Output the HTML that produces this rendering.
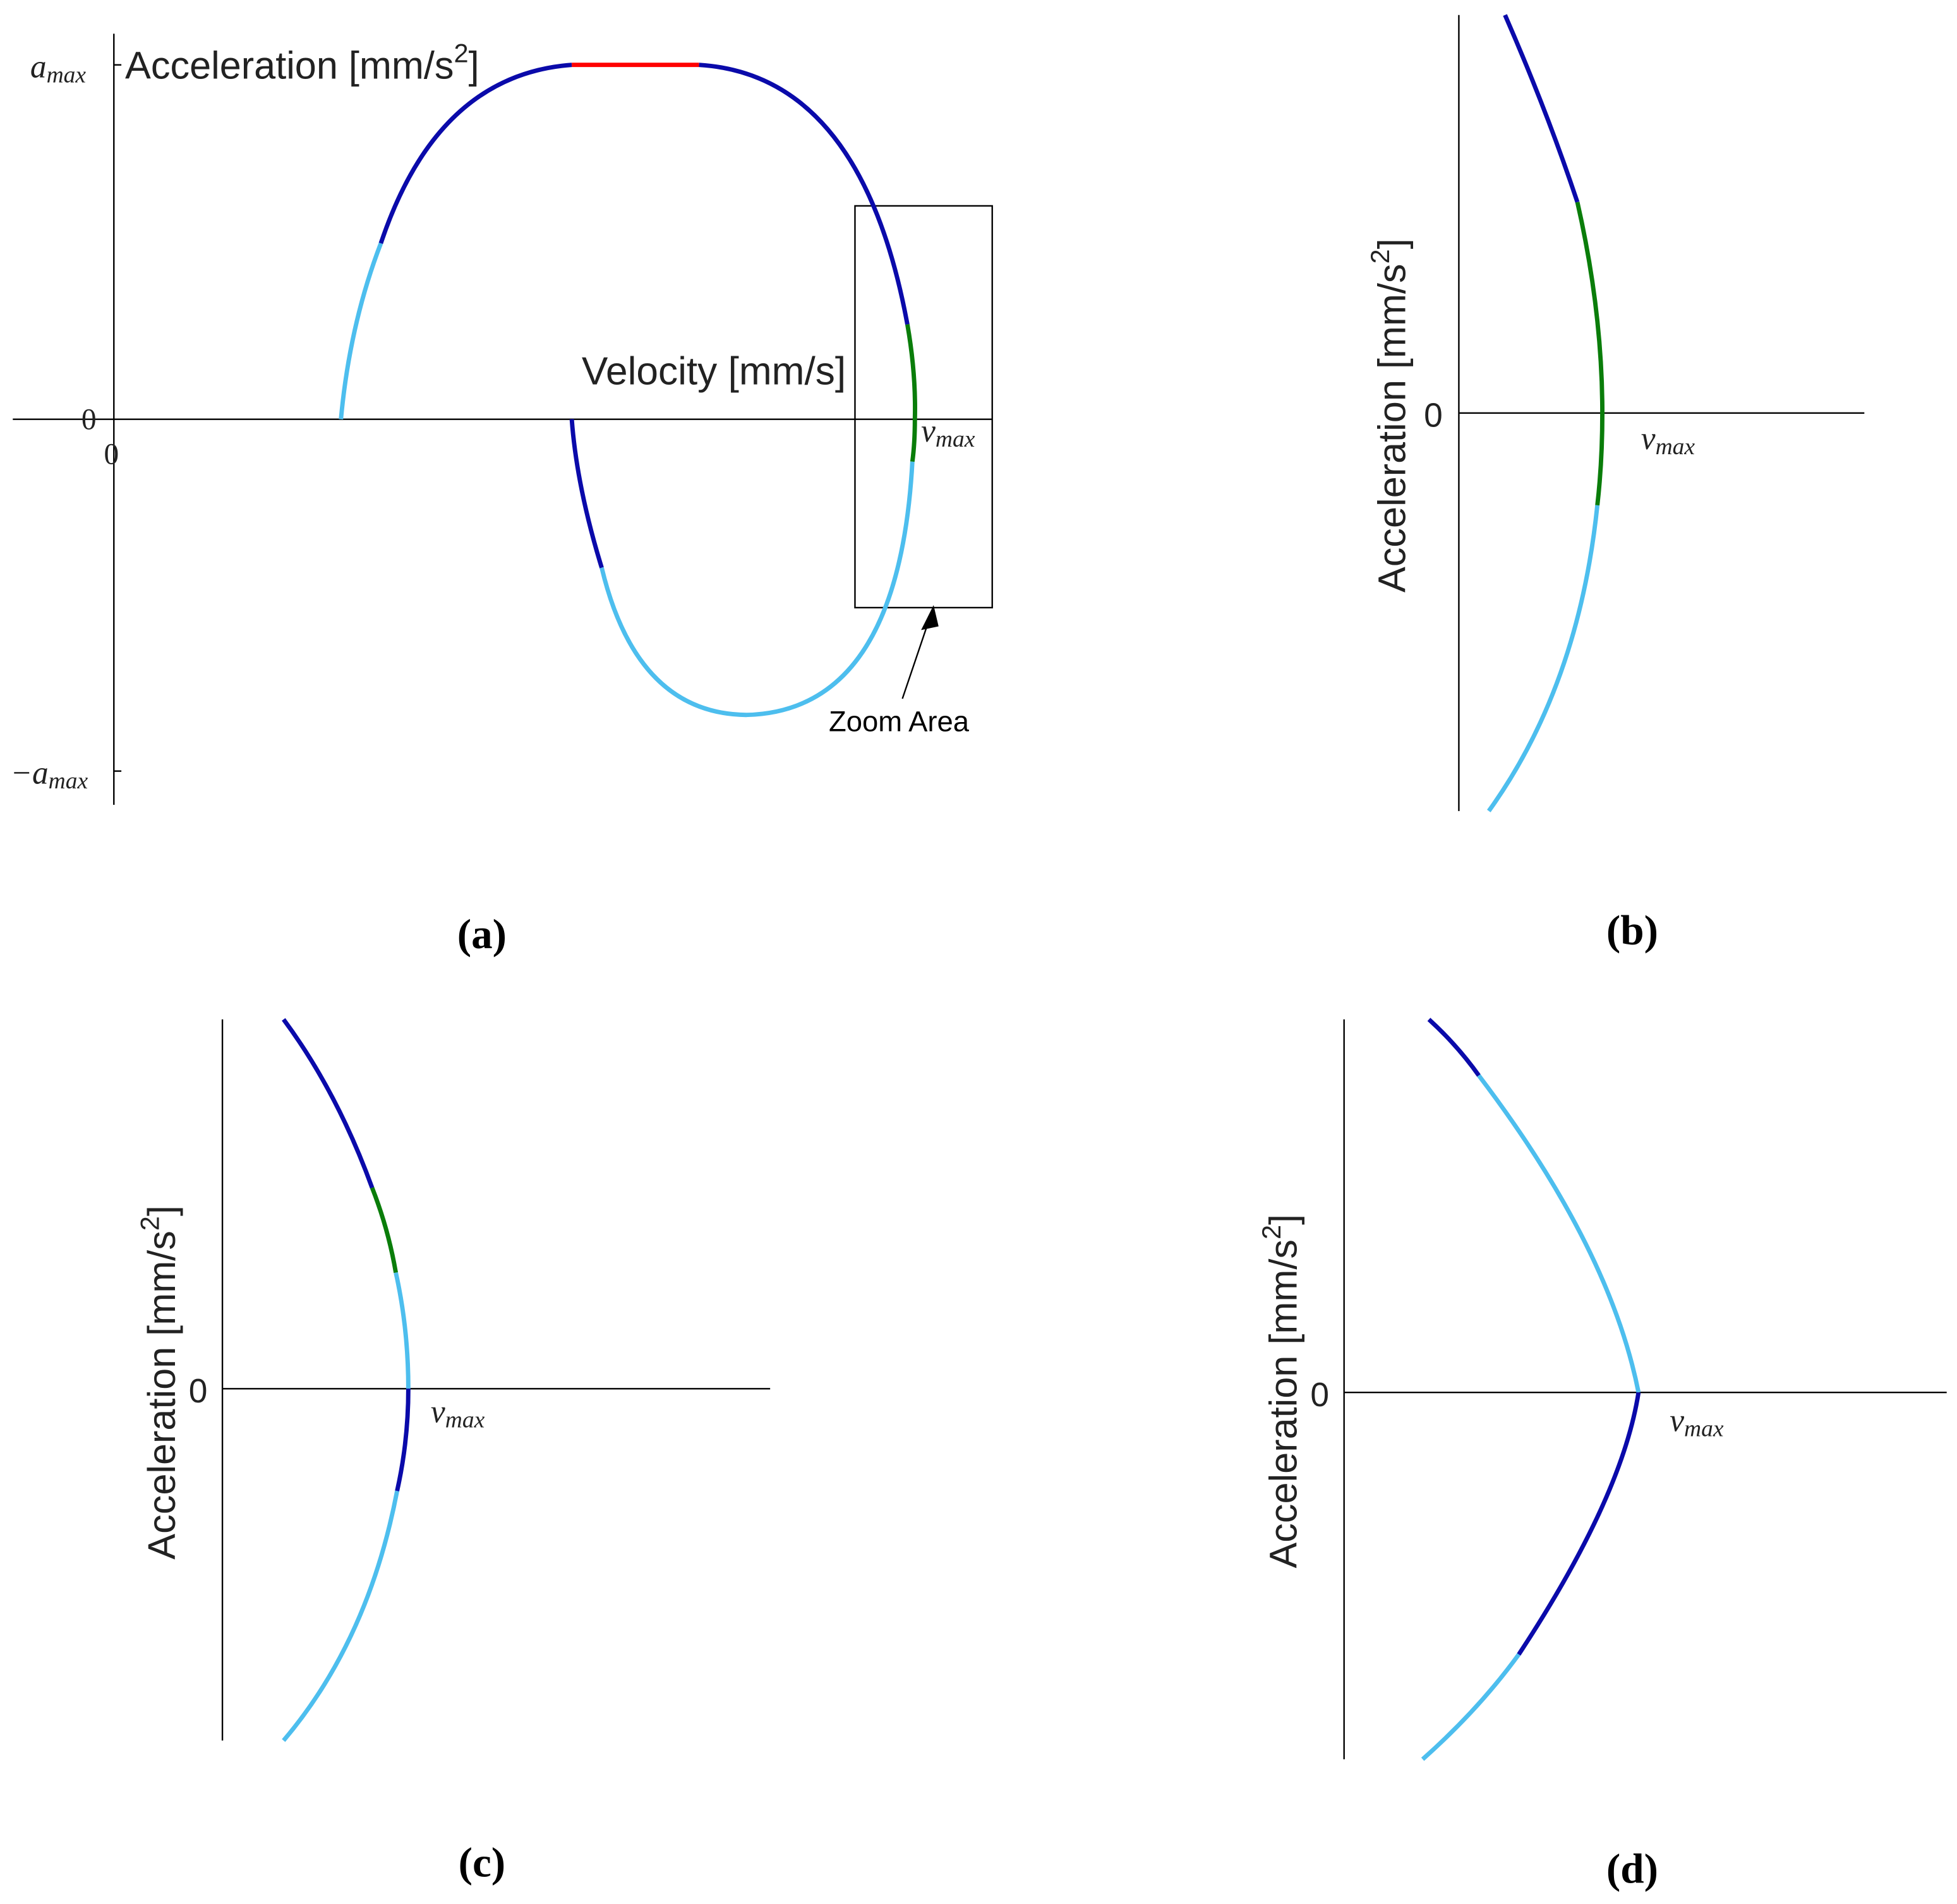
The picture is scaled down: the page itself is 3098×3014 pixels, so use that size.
<!DOCTYPE html>
<html><head><meta charset="utf-8"><style>html,body{margin:0;padding:0;background:#fff}svg{display:block}</style></head>
<body>
<svg width="3098" height="3014" viewBox="0 0 1568 1526" xmlns="http://www.w3.org/2000/svg">
<rect width="1568" height="1526" fill="#fff"/>
<g fill="none" stroke-width="3.5" stroke-linecap="butt">
<g stroke="#000" stroke-width="1.2">
<line x1="91" y1="27" x2="91" y2="645"/>
<line x1="10" y1="336" x2="795" y2="336"/>
<line x1="91" y1="52" x2="97" y2="52"/>
<line x1="91" y1="618" x2="97" y2="618"/>
<rect x="685" y="165" width="110" height="322"/>
<line x1="723" y1="560" x2="745" y2="495"/>
</g>
<polygon points="748,485 738,505 752,502" fill="#000"/>
<path d="M273,336 Q280,260 305,195" stroke="#4dbeee"/>
<path d="M305,195 Q350,60 458,52" stroke="#0a0aaa"/>
<path d="M458,52 L560,52" stroke="#ff0000"/>
<path d="M560,52 Q690,60 727,260" stroke="#0a0aaa"/>
<path d="M727,260 Q734,300 733,336 Q733,355 731,370" stroke="#0a7d0a"/>
<path d="M731,370 Q720,570 598,573 Q510,572 482,455" stroke="#4dbeee"/>
<path d="M482,455 Q462,390 458,336" stroke="#0a0aaa"/>
<g stroke="#000" stroke-width="1.2">
<line x1="1169" y1="12" x2="1169" y2="650"/>
<line x1="1169" y1="331" x2="1494" y2="331"/>
</g>
<path d="M1206,12 Q1240,90 1264,162" stroke="#0a0aaa"/>
<path d="M1264,162 Q1284,250 1284,331 Q1284,370 1280,405" stroke="#0a7d0a"/>
<path d="M1280,405 Q1265,550 1193,650" stroke="#4dbeee"/>
<g stroke="#000" stroke-width="1.2">
<line x1="178" y1="817" x2="178" y2="1395"/>
<line x1="178" y1="1113" x2="617" y2="1113"/>
</g>
<path d="M227,817 Q270,875 298,952" stroke="#0a0aaa"/>
<path d="M298,952 Q311,985 317,1020" stroke="#0a7d0a"/>
<path d="M317,1020 Q327,1065 327,1113" stroke="#4dbeee"/>
<path d="M327,1113 Q327,1155 318,1195" stroke="#0a0aaa"/>
<path d="M318,1195 Q295,1315 227,1395" stroke="#4dbeee"/>
<g stroke="#000" stroke-width="1.2">
<line x1="1077" y1="817" x2="1077" y2="1410"/>
<line x1="1077" y1="1116" x2="1560" y2="1116"/>
</g>
<path d="M1145,817 Q1168,838 1185,862" stroke="#0a0aaa"/>
<path d="M1185,862 Q1290,1000 1313,1116" stroke="#4dbeee"/>
<path d="M1313,1116 Q1300,1200 1217,1326" stroke="#0a0aaa"/>
<path d="M1217,1326 Q1185,1370 1140,1410" stroke="#4dbeee"/>
</g>
<g font-family="Liberation Sans, sans-serif" font-size="31" fill="#222">
<text x="100" y="63">Acceleration [mm/s<tspan dy="-13" font-size="21">2</tspan><tspan dy="13">]</tspan></text>
<text x="466" y="308" font-size="31.5">Velocity [mm/s]</text>
<text x="664" y="586" font-size="23" fill="#000">Zoom Area</text>
<text x="1141" y="342" font-size="27">0</text>
<text x="151" y="1124" font-size="27">0</text>
<text x="1050" y="1127" font-size="27">0</text>
<text transform="translate(1126,333) rotate(-90)" text-anchor="middle">Acceleration [mm/s<tspan dy="-13" font-size="21">2</tspan><tspan dy="13">]</tspan></text>
<text transform="translate(140,1108) rotate(-90)" text-anchor="middle">Acceleration [mm/s<tspan dy="-13" font-size="21">2</tspan><tspan dy="13">]</tspan></text>
<text transform="translate(1039,1115) rotate(-90)" text-anchor="middle">Acceleration [mm/s<tspan dy="-13" font-size="21">2</tspan><tspan dy="13">]</tspan></text>
</g>
<g font-family="Liberation Serif, serif" font-style="italic" font-size="26" fill="#222">
<text x="24" y="62">a<tspan font-size="19" dy="4">max</tspan></text>
<text x="8" y="628">−a<tspan font-size="19" dy="4">max</tspan></text>
<text x="738" y="354">v<tspan font-size="19" dy="4">max</tspan></text>
<text x="1315" y="360">v<tspan font-size="19" dy="4">max</tspan></text>
<text x="345" y="1140">v<tspan font-size="19" dy="4">max</tspan></text>
<text x="1338" y="1147">v<tspan font-size="19" dy="4">max</tspan></text>
</g>
<g font-family="Liberation Serif, serif" font-size="24" fill="#222">
<text x="65" y="344">0</text>
<text x="83" y="372">0</text>
</g>
<g font-family="Liberation Serif, serif" font-weight="bold" font-size="34" fill="#000" text-anchor="middle">
<text x="386" y="760">(a)</text>
<text x="1308" y="757">(b)</text>
<text x="386" y="1504">(c)</text>
<text x="1308" y="1509">(d)</text>
</g>
</svg>
</body></html>
